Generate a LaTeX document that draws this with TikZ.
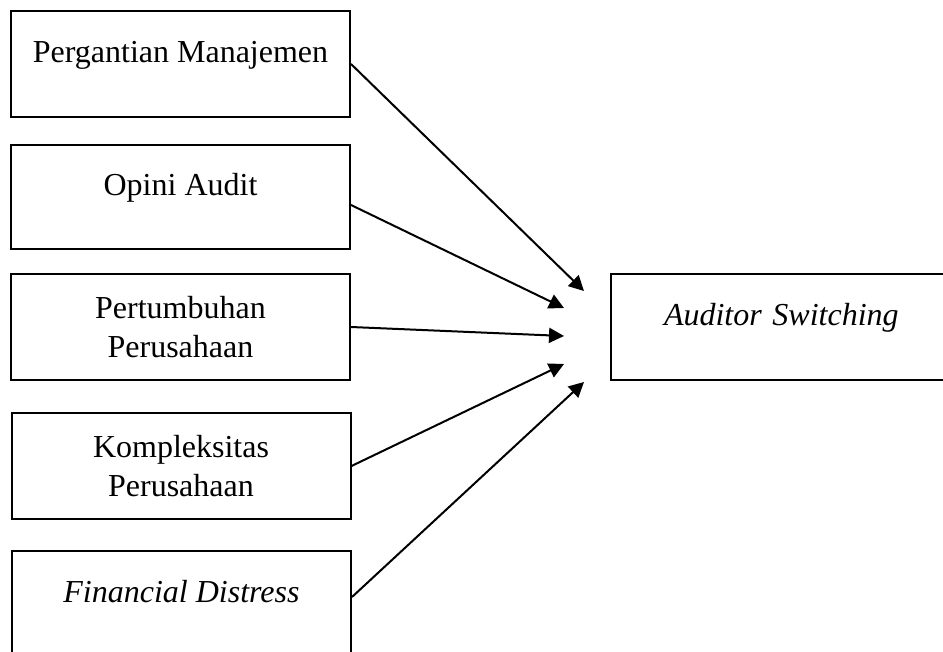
\documentclass[tikz,border=0pt]{standalone}
\usepackage{fontspec}
\setmainfont{Liberation Serif}
\usetikzlibrary{arrows.meta}

\begin{document}
\begin{tikzpicture}[x=1pt,y=-1pt,
  varbox/.style={draw, line width=2pt, minimum width=339pt, minimum height=106pt,
    align=center, inner sep=0pt, font=\fontsize{32}{39}\selectfont},
  oneline/.style={text height=21pt, text depth=24pt},
  arr/.style={line width=2pt, -{Triangle[length=15pt,width=15pt]}}]
\useasboundingbox (0,0) rectangle (943,652);
\node[varbox, oneline] (manaj) at (180.5,64) {Pergantian Manajemen};
\node[varbox, oneline, minimum height=104pt] (opini) at (180.5,197) {Opini Audit};
\node[varbox] (tumbuh) at (180.5,327) {Pertumbuhan\\Perusahaan};
\node[varbox] (kompleks) at (181,466) {Kompleksitas\\Perusahaan};
\node[varbox, oneline] (distress) at (181.5,604) {\itshape Financial Distress};
\node[varbox, oneline, anchor=west, minimum width=0pt, text width=300pt, align=left,
  inner xsep=53pt] (switch) at (610,327) {\itshape Auditor Switching};
\coordinate (t1) at (584,291);
\coordinate (t2) at (564,308);
\coordinate (t3) at (564,336);
\coordinate (t4) at (564,364);
\coordinate (t5) at (584,382);
\draw[arr] (manaj.east) -- (t1);
\draw[arr] ([yshift=-8pt]opini.east) -- (t2);
\draw[arr] (tumbuh.east) -- (t3);
\draw[arr] (kompleks.east) -- (t4);
\draw[arr] ([yshift=7pt]distress.east) -- (t5);
\end{tikzpicture}
\end{document}
